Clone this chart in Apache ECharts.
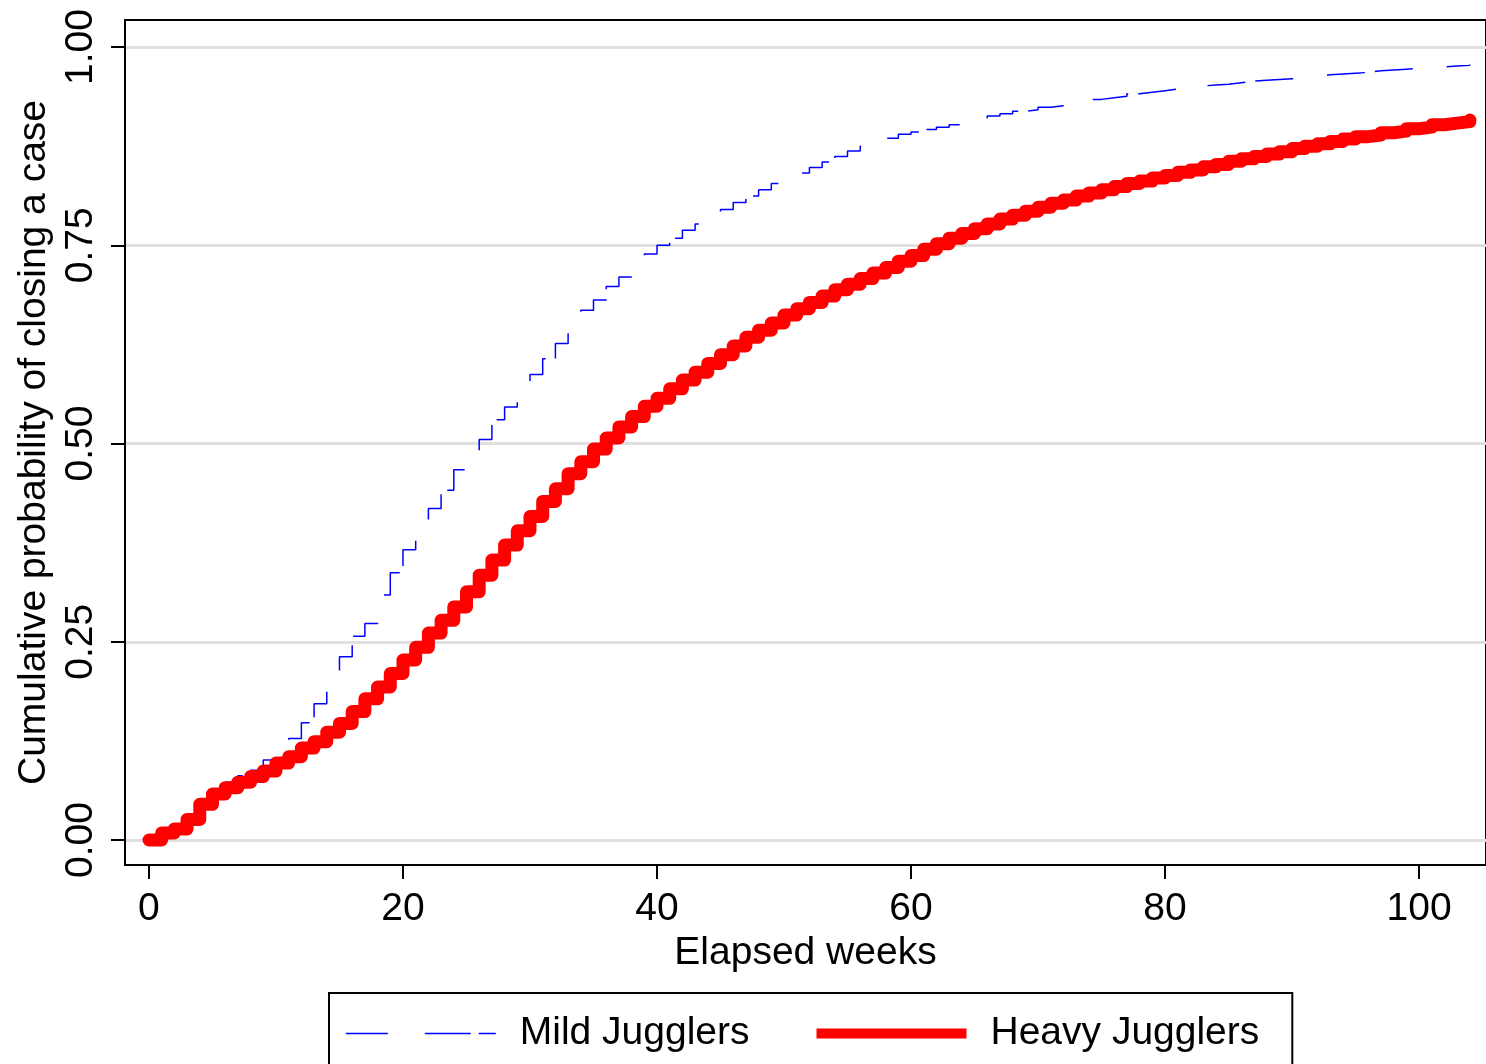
<!DOCTYPE html>
<html>
<head>
<meta charset="utf-8">
<title>Cumulative probability of closing a case</title>
<script src="https://cdn.jsdelivr.net/npm/echarts@6/dist/echarts.min.js"></script>
<style>
html, body { margin: 0; padding: 0; background: #fff; }
#chart { width: 1486px; height: 1064px; }
</style>
</head>
<body>
<div id="chart"></div>
<script>
// cumulative probability, one value per elapsed week (held until the next week)
const mildJugglers = [
  0, 0.009, 0.014, 0.027, 0.050, 0.062, 0.073, 0.081, 0.088, 0.101,
  0.111, 0.128, 0.148, 0.172, 0.202, 0.231, 0.257, 0.273, 0.309, 0.337,
  0.366, 0.403, 0.418, 0.441, 0.467, 0.485, 0.505, 0.530, 0.546, 0.567,
  0.587, 0.607, 0.626, 0.646, 0.668, 0.681, 0.698, 0.710, 0.725, 0.739,
  0.750, 0.759, 0.769, 0.777, 0.786, 0.795, 0.804, 0.812, 0.820, 0.828,
  0.834, 0.841, 0.848, 0.855, 0.862, 0.869, 0.875, 0.880, 0.885, 0.890,
  0.893, 0.896, 0.899, 0.902, 0.906, 0.910, 0.913, 0.916, 0.919, 0.921,
  0.924, 0.926, 0.929, 0.931, 0.934, 0.936, 0.938, 0.941, 0.943, 0.945,
  0.947, 0.948, 0.951, 0.952, 0.953, 0.955, 0.957, 0.958, 0.959, 0.960,
  0.961, 0.963, 0.965, 0.966, 0.967, 0.968, 0.970, 0.971, 0.972, 0.973,
  0.974, 0.975, 0.976, 0.977, 0.978
]
const heavyJugglers = [
  0, 0.009, 0.014, 0.026, 0.045, 0.058, 0.066, 0.073, 0.080, 0.087,
  0.097, 0.105, 0.116, 0.124, 0.136, 0.147, 0.162, 0.178, 0.193, 0.210,
  0.227, 0.243, 0.261, 0.277, 0.294, 0.313, 0.334, 0.353, 0.372, 0.390,
  0.408, 0.427, 0.443, 0.462, 0.477, 0.493, 0.507, 0.521, 0.534, 0.547,
  0.557, 0.569, 0.580, 0.590, 0.601, 0.612, 0.623, 0.634, 0.643, 0.652,
  0.662, 0.670, 0.678, 0.686, 0.694, 0.701, 0.708, 0.715, 0.722, 0.730,
  0.737, 0.745, 0.752, 0.759, 0.765, 0.771, 0.777, 0.783, 0.788, 0.793,
  0.798, 0.803, 0.807, 0.812, 0.816, 0.820, 0.824, 0.828, 0.831, 0.835,
  0.838, 0.842, 0.845, 0.849, 0.852, 0.856, 0.859, 0.862, 0.865, 0.868,
  0.872, 0.875, 0.878, 0.881, 0.884, 0.887, 0.889, 0.892, 0.894, 0.897,
  0.899, 0.902, 0.904, 0.906, 0.908
]
const xTicks = [0, 20, 40, 60, 80, 100]
const yTicks = [0, 0.25, 0.5, 0.75, 1]

// week index 0..104
const weeks = heavyJugglers.map((v, i) => i)

const font = '"Liberation Sans", Arial, Helvetica, sans-serif'
let chart = echarts.init(document.getElementById('chart'))

let option = {
  animation: false,
  textStyle: { fontFamily: font },
  grid: {
    left: 125, top: 20, width: 1363, height: 845,
    show: true, borderColor: '#000', borderWidth: 2
  },
  xAxis: {
    type: 'value',
    min: -1.887,
    max: 105.27,
    name: 'Elapsed weeks',
    nameLocation: 'middle',
    nameGap: 64,
    nameTextStyle: { fontSize: 39, color: '#000' },
    axisLine: { show: true, onZero: false, lineStyle: { color: '#000', width: 2 } },
    axisTick: { show: true, inside: false, customValues: xTicks, length: 14, lineStyle: { color: '#000', width: 2 } },
    axisLabel: { customValues: xTicks, fontSize: 39, color: '#000', margin: 25 },
    splitLine: { show: false }
  },
  yAxis: {
    type: 'value',
    min: -0.0315,
    max: 1.0341,
    name: 'Cumulative probability of closing a case',
    nameLocation: 'middle',
    nameGap: 57,
    nameTextStyle: { fontSize: 39, color: '#000' },
    axisLine: { show: true, onZero: false, lineStyle: { color: '#000', width: 2 } },
    axisTick: { show: true, inside: false, customValues: yTicks, length: 14, lineStyle: { color: '#000', width: 2 } },
    axisLabel: {
      customValues: yTicks, rotate: 90, fontSize: 39, color: '#000', margin: 24,
      formatter: function (v) { return v.toFixed(2) }
    },
    splitLine: { show: true, lineStyle: { color: '#e0e0e0', width: 3 } }
  },
  legend: {
    left: 329,
    top: 993,
    padding: [21, 33, 30, 16],
    borderColor: '#000',
    borderWidth: 2,
    itemWidth: 150,
    itemHeight: 39,
    itemGap: 62,
    selectedMode: false,
    textStyle: { fontSize: 39, color: '#000', padding: [0, 0, 0, 19] },
    data: [
      { name: 'Mild Jugglers', itemStyle: { opacity: 0 }, lineStyle: { type: [42, 37, 46, 8], width: 1.5 } },
      { name: 'Heavy Jugglers', itemStyle: { opacity: 0 }, lineStyle: { width: 10, cap: 'butt' } }
    ]
  },
  series: [
    {
      name: 'Mild Jugglers',
      type: 'line',
      step: 'end',
      symbol: 'none',
      data: weeks.map((w, i) => [w, mildJugglers[i]]),
      itemStyle: { color: '#0000ff' },
      lineStyle: { color: '#0000ff', width: 1.5, type: [38, 10, 38, 34] },
      z: 2
    },
    {
      name: 'Heavy Jugglers',
      type: 'line',
      step: 'end',
      symbol: 'none',
      data: weeks.map((w, i) => [w, heavyJugglers[i]]),
      itemStyle: { color: '#ff0000' },
      lineStyle: { color: '#ff0000', width: 13, cap: 'round', join: 'round' },
      z: 3
    }
  ]
}

chart.setOption(option)
</script>
</body>
</html>
